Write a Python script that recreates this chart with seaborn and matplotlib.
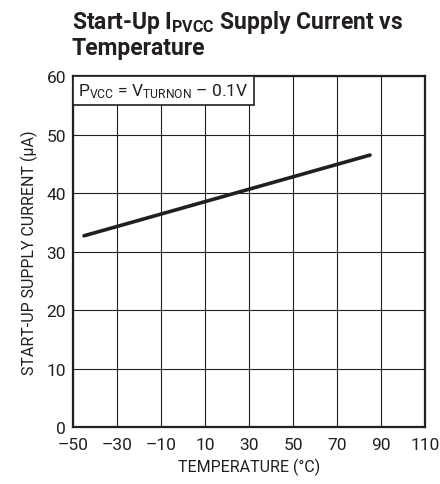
import matplotlib
matplotlib.use('Agg')
import matplotlib.pyplot as plt
import seaborn as sns
import pandas as pd

# data
temperature = [-45, 85]
current_ua = [32.7, 46.5]
x_ticks = [-50, -30, -10, 10, 30, 50, 70, 90, 110]
y_ticks = [0, 10, 20, 30, 40, 50, 60]

sns.set_theme(style="white")
plt.rcParams['font.family'] = ['Roboto', 'DejaVu Sans']
plt.rcParams['mathtext.fontset'] = 'custom'
plt.rcParams['mathtext.rm'] = 'Roboto'
plt.rcParams['mathtext.bf'] = 'Roboto:bold'

ink = "#231f20"
df = pd.DataFrame({"temp": temperature, "current": current_ua})

fig = plt.figure(figsize=(4.4, 4.85), dpi=100)
ax = fig.add_axes([0.166, 0.1175, 0.80, 0.7235])

sns.lineplot(data=df, x="temp", y="current", ax=ax, color=ink, linewidth=2.6)

ax.set_xlim(-50, 110)
ax.set_ylim(0, 60)
ax.set_xticks(x_ticks)
ax.set_xticklabels([f"{t}".replace("-", "\u2013") for t in x_ticks])
ax.set_yticks(y_ticks)
ax.tick_params(axis="both", length=0, labelsize=12.5, colors=ink)
ax.tick_params(axis="x", pad=7)
ax.tick_params(axis="y", pad=5)
ax.grid(True, color=ink, linewidth=0.8)
for s in ax.spines.values():
    s.set_color(ink)
    s.set_linewidth(1.6)

ax.set_xlabel("TEMPERATURE (°C)", fontsize=11.5, color=ink, labelpad=4)
ax.set_ylabel("START-UP SUPPLY CURRENT (µA)", fontsize=11.5, color=ink, labelpad=6)

pad = 0.3 * 12.5
ax.annotate("$\\mathregular{P_{VCC}}$ = $\\mathregular{V_{TURNON}}$ \u2013 0.1V ",
            xy=(0, 1), xycoords="axes fraction",
            xytext=(pad, -pad), textcoords="offset points",
            ha="left", va="top", fontsize=12.5, color=ink,
            bbox=dict(boxstyle="square,pad=0.3", facecolor="white", edgecolor=ink, linewidth=1.2),
            zorder=5)

fig.text(0.163, 0.982, "Start-Up $\\mathregular{I_{PVCC}}$ Supply Current vs\nTemperature",
         ha="left", va="top", fontsize=16.5, fontweight="bold", color=ink, linespacing=1.05)

fig.savefig("out.png", dpi=100)
